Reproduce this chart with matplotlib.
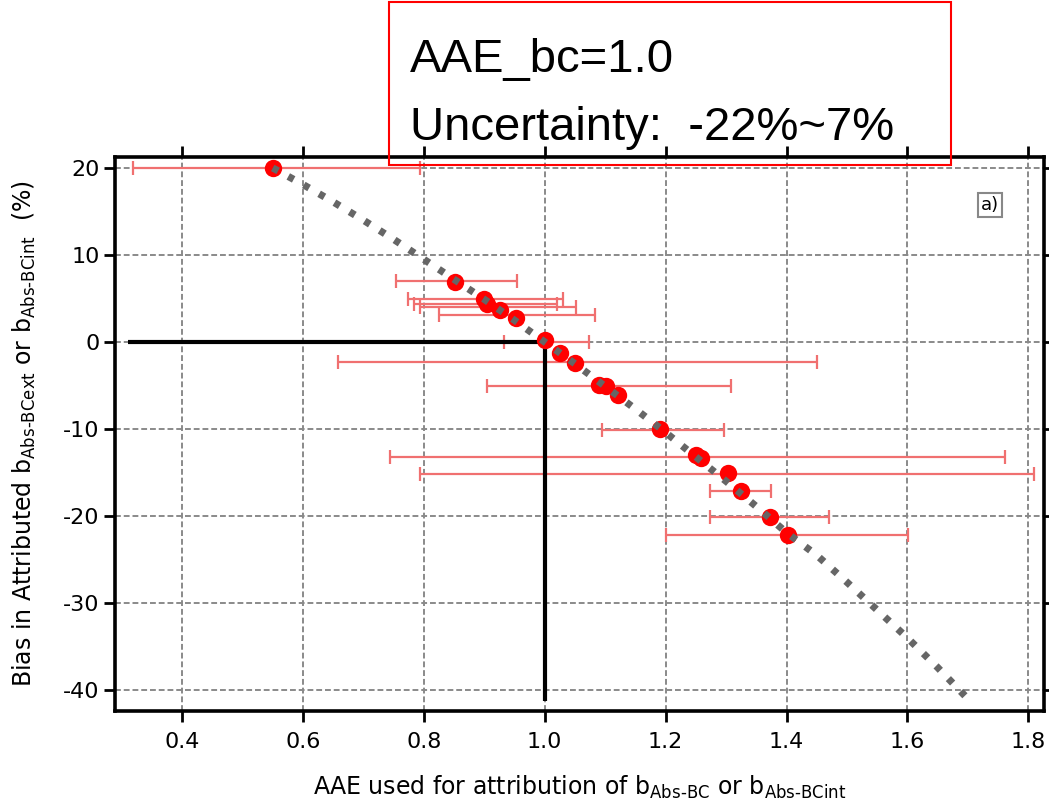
import matplotlib
matplotlib.use("Agg")
import matplotlib.pyplot as plt
from matplotlib.patches import Rectangle
import numpy as np

plt.rcParams["font.family"] = ["DejaVu Sans"]
plt.rcParams["mathtext.fontset"] = "dejavusans"
plt.rcParams["axes.unicode_minus"] = False

# ── data ─────────────────────────────────────────────────────────────────────
# gray dotted curve: bias vs AAE
curve_x = [0.55, 0.60, 0.65, 0.70, 0.75, 0.80, 0.85, 0.90, 0.95, 1.00, 1.05, 1.10,
           1.15, 1.20, 1.25, 1.30, 1.35, 1.40, 1.45, 1.50, 1.55, 1.60, 1.65, 1.70]
curve_y = [20.0, 18.1, 16.1, 14.0, 11.8, 9.5, 7.2, 4.9, 2.5, 0.0, -2.5, -5.1,
           -7.7, -10.4, -13.2, -16.0, -18.9, -21.9, -24.5, -27.6, -30.8, -34.0, -37.4, -41.0]

# red points
pt_x = [0.55, 0.852, 0.900, 0.905, 0.926, 0.953, 1.000, 1.026, 1.050, 1.090,
        1.102, 1.122, 1.190, 1.250, 1.258, 1.303, 1.324, 1.373, 1.402]
pt_y = [20.0, 6.9, 4.9, 4.4, 3.7, 2.8, 0.2, -1.3, -2.4, -4.9,
        -5.0, -6.1, -10.0, -13.0, -13.3, -15.1, -17.1, -20.1, -22.2]

# horizontal error bars: centre, y, left end, right end
bar_c = [0.55, 0.852, 0.900, 0.905, 0.926, 0.953, 1.000, 1.050, 1.095, 1.190,
         1.250, 1.303, 1.324, 1.373, 1.402]
bar_y = [20.0, 7.0, 5.0, 4.4, 4.0, 3.1, 0.0, -2.3, -5.0, -10.1,
         -13.2, -15.2, -17.1, -20.1, -22.2]
bar_lo = [0.319, 0.754, 0.774, 0.784, 0.794, 0.825, 0.933, 0.658, 0.905, 1.095,
          0.744, 0.794, 1.274, 1.274, 1.201]
bar_hi = [0.794, 0.954, 1.030, 1.020, 1.052, 1.083, 1.073, 1.451, 1.308, 1.297,
          1.762, 1.810, 1.375, 1.471, 1.601]

# reference lines for AAE_bc = 1.0
ref_h_x = [0.31, 1.0]
ref_h_y = [0.0, 0.0]
ref_v_x = [1.0, 1.0]
ref_v_y = [0.0, -41.2]

xticks = [0.4, 0.6, 0.8, 1.0, 1.2, 1.4, 1.6, 1.8]
yticks = [20, 10, 0, -10, -20, -30, -40]

# ── figure ───────────────────────────────────────────────────────────────────
fig = plt.figure(figsize=(10.49, 8), dpi=100)
ax = fig.add_axes([115 / 1049, 89 / 800, 929 / 1049, 554 / 800])

ax.set_xlim(0.289, 1.826)
ax.set_ylim(-42.4, 21.26)
ax.set_xticks(xticks)
ax.set_xticklabels([f"{v:.1f}" for v in xticks])
ax.set_yticks(yticks)

ax.grid(True, color="#8a8a8a", linewidth=1.4, linestyle=(0, (3, 1.5)), zorder=0)
ax.set_axisbelow(True)

xerr = [np.array(bar_c) - np.array(bar_lo), np.array(bar_hi) - np.array(bar_c)]
ax.errorbar(bar_c, bar_y, xerr=xerr, fmt="none", ecolor="#f07070",
            elinewidth=1.6, capsize=5, capthick=1.6, zorder=2)

ax.plot(ref_h_x, ref_h_y, color="black", linewidth=3, solid_capstyle="butt", zorder=3)
ax.plot(ref_v_x, ref_v_y, color="black", linewidth=3, solid_capstyle="butt", zorder=3)

ax.plot(pt_x, pt_y, "o", color="#ff0000", markersize=12.5, markeredgewidth=0, zorder=4)

ax.plot(curve_x, curve_y, color="#666666", linewidth=5.2,
        linestyle=(0, (0.85, 1.6)), dash_capstyle="butt", zorder=5)

for s in ax.spines.values():
    s.set_linewidth(2.6)
    s.set_color("black")
ax.tick_params(axis="both", which="major", direction="out", length=8, width=2,
               labelsize=16, top=True, right=True, color="black")
ax.tick_params(axis="x", pad=7)
ax.tick_params(axis="y", pad=3)

ax.set_xlabel(r"AAE used for attribution of b$_{\mathregular{Abs\text{-}BC}}$ or "
              r"b$_{\mathregular{Abs\text{-}BCint}}$", fontsize=17)
ax.xaxis.set_label_coords(0.5, -0.113)
ax.set_ylabel(r"Bias in Attributed b$_{\mathregular{Abs\text{-}BCext}}$ or "
              r"b$_{\mathregular{Abs\text{-}BCint}}$  (%)", fontsize=17)
ax.yaxis.set_label_coords(-0.083, 0.5)

ax.text(0.942, 0.913, "a)", transform=ax.transAxes, ha="center", va="center",
        fontsize=13, bbox=dict(boxstyle="square,pad=0.15", fc="white", ec="#888888", lw=1.5))

# annotation box at top
fig.patches.append(Rectangle((389 / 1049, 635 / 800), 562 / 1049, 163 / 800,
                             transform=fig.transFigure, fill=False,
                             edgecolor="#ff0000", linewidth=1.5, zorder=10))
fig.text(410 / 1049, 728 / 800, "AAE_bc=1.0", fontsize=34,
         family="Liberation Sans", va="baseline", ha="left")
fig.text(410 / 1049, 660 / 800, "Uncertainty:  -22%~7%", fontsize=34,
         family="Liberation Sans", va="baseline", ha="left")

fig.savefig("out.png", dpi=100, facecolor="white")
